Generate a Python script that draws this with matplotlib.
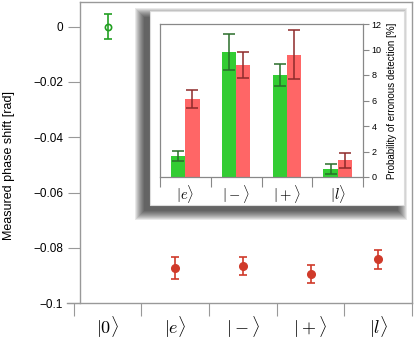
import numpy as np
import matplotlib
matplotlib.use('Agg')
import matplotlib.pyplot as plt
from matplotlib.patches import Rectangle

plt.rcParams['mathtext.fontset'] = 'cm'
plt.rcParams['font.family'] = ['Liberation Sans', 'DejaVu Sans']

# main panel: measured phase shift
states = [r'$|0\rangle$', r'$|e\rangle$', r'$|-\rangle$', r'$|+\rangle$', r'$|l\rangle$']
phase = [0.0, -0.0873, -0.0865, -0.0894, -0.0841]
phase_err = [0.0044, 0.0040, 0.0034, 0.0034, 0.0035]

# inset: probability of erroneous detection
inset_states = [r'$|e\rangle$', r'$|-\rangle$', r'$|+\rangle$', r'$|l\rangle$']
prob_green = [1.65, 9.8, 8.0, 0.6]
err_green = [0.42, 1.4, 0.9, 0.4]
prob_red = [6.1, 8.8, 9.6, 1.3]
err_red = [0.7, 1.0, 1.9, 0.6]

W, H = 415, 344
fig = plt.figure(figsize=(W / 100, H / 100), dpi=100)

ax = fig.add_axes([67 / W, 1 - 303.3 / H, 345 / W, 301.3 / H], zorder=0)
grey = '#999999'
for s in ax.spines.values():
    s.set_color(grey)
    s.set_linewidth(1.0)
ax.set_xlim(-0.6, 4.5)
ax.set_ylim(-0.1, 0.0089)
ax.spines['left'].set_position(('data', -0.41))
ax.spines['top'].set_bounds(-0.41, 4.5)

x = np.arange(len(states))
ax.errorbar(x[:1], phase[:1], yerr=phase_err[:1], fmt='o', mfc='none',
            mec='#22a022', color='#22a022', ms=4.5, mew=1.2, capsize=2.8,
            elinewidth=1.2, capthick=1.2)
ax.errorbar(x[1:], phase[1:], yerr=phase_err[1:], fmt='o',
            color='#d03a2a', ms=5.5, capsize=2.8, elinewidth=1.2, capthick=1.2)

ax.set_yticks([0, -0.02, -0.04, -0.06, -0.08, -0.1])
ax.set_yticklabels(['0', '\u22120.02', '\u22120.04', '\u22120.06', '\u22120.08', '\u22120.1'])
ax.tick_params(axis='y', length=9, color=grey, labelsize=8.5, pad=3)
ax.set_xticks(np.arange(-0.5, 5, 1))
ax.set_xticklabels([])
ax.set_xticks(x, minor=True)
ax.set_xticklabels(states, minor=True, fontsize=13)
ax.tick_params(axis='x', which='major', length=9, color=grey)
ax.tick_params(axis='x', which='minor', length=0, pad=8)
ax.set_ylabel('Measured phase shift [rad]', fontsize=9)
ax.yaxis.set_label_coords(-0.152, 0.459)

# inset box with shadow
bx, by, bw, bh = 150, 205, 254, 194
for i in range(10):
    grow = 9 - i
    r = Rectangle(((bx - 6 - grow) / W, 1 - (by + 6 + grow) / H),
                  (bw + 2 * grow) / W, (bh + 2 * grow) / H,
                  transform=fig.transFigure, facecolor='black',
                  edgecolor='none', alpha=0.085, zorder=1)
    fig.add_artist(r)
fig.add_artist(Rectangle((bx / W, 1 - by / H), bw / W, bh / H,
                         transform=fig.transFigure, facecolor='white',
                         edgecolor='#dddddd', lw=0.8, zorder=2))

ins = fig.add_axes([160 / W, 1 - 177 / H, 203 / W, 153 / H], zorder=3)
for s in ins.spines.values():
    s.set_color('#888888')
    s.set_linewidth(0.9)
xi = np.arange(len(inset_states))
bwid = 0.28
ins.bar(xi - bwid / 2, prob_green, bwid, color='#33cc33')
ins.bar(xi + bwid / 2, prob_red, bwid, color='#ff6666')
ins.errorbar(xi - bwid / 2, prob_green, yerr=err_green, fmt='none',
             ecolor='#2a6e2a', capsize=4.2, elinewidth=1.1, capthick=1.1)
ins.errorbar(xi + bwid / 2, prob_red, yerr=err_red, fmt='none',
             ecolor='#8e2a2a', capsize=4.2, elinewidth=1.1, capthick=1.1)
ins.set_xlim(-0.5, 3.5)
ins.set_ylim(0, 12)
ins.yaxis.tick_right()
ins.yaxis.set_label_position('right')
ins.set_yticks(range(0, 13, 2))
ins.tick_params(axis='y', length=4, color='#888888', labelsize=6.5, pad=2)
ins.set_xticks(np.arange(-0.5, 4, 1))
ins.set_xticklabels([])
ins.set_xticks(xi, minor=True)
ins.set_xticklabels(inset_states, minor=True, fontsize=10.5)
ins.tick_params(axis='x', which='major', length=7, color='#888888')
ins.tick_params(axis='x', which='minor', length=0, pad=4)
ins.set_ylabel('Probability of erronous detection [%]', fontsize=7,
               labelpad=4)

fig.savefig('out.png', dpi=100)
